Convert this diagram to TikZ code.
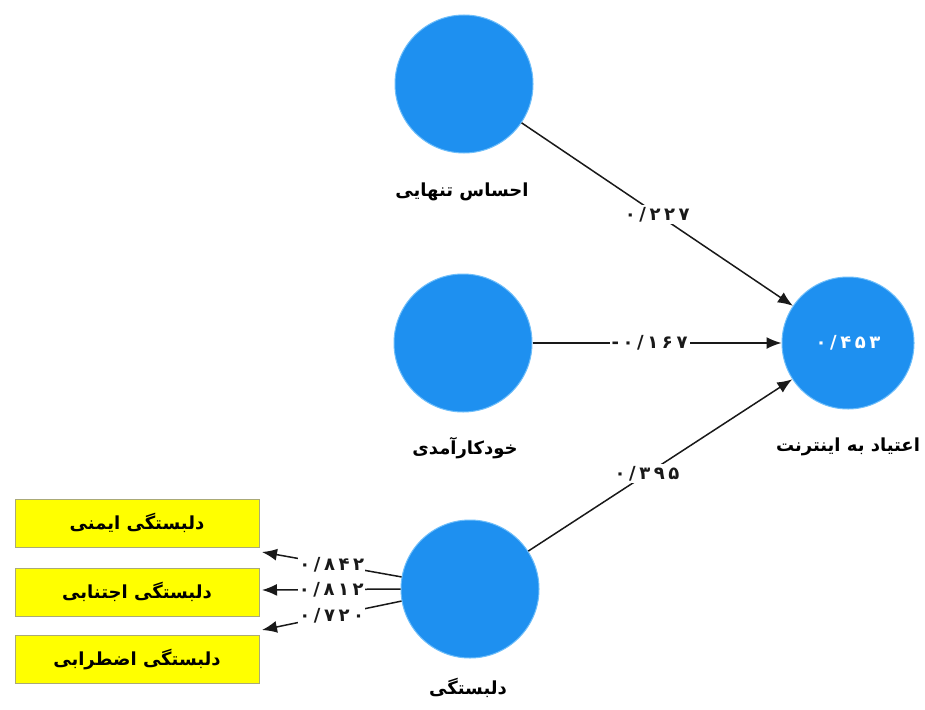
\documentclass[tikz,border=0pt]{standalone}
\usepackage{fontspec}
\usetikzlibrary{arrows.meta}
\TeXXeTstate=1
\newfontfamily\fa[Script=Arabic]{DejaVu Sans}
\newfontfamily\fanum[LetterSpace=20]{DejaVu Sans}
\definecolor{nodeblue}{RGB}{30,144,240}
\definecolor{nodeedge}{RGB}{110,190,250}
\definecolor{boxyellow}{RGB}{255,255,0}
\definecolor{boxedge}{RGB}{170,170,120}
\tikzset{
  lv/.style={circle, fill=nodeblue, draw=nodeedge, line width=1pt, minimum size=138pt, inner sep=0pt},
  ind/.style={rectangle, fill=boxyellow, draw=boxedge, line width=0.8pt, minimum width=244pt, minimum height=48pt, font=\fa\bfseries\fontsize{18}{21}\selectfont},
  vname/.style={font=\fa\bfseries\fontsize{18}{21}\selectfont, text=black},
  coef/.style={fill=white, inner sep=2pt, font=\fanum\bfseries\fontsize{18}{21}\selectfont, text=black!90},
  arr/.style={draw=black!90, line width=1.5pt, -{Latex[length=15pt,width=12pt]}},
}
\begin{document}
\begin{tikzpicture}[x=1pt,y=-1pt]
\path[use as bounding box, fill=white] (0,0) rectangle (925,709);
% latent variables
\node[lv] (c1) at (464,84) {};
\node[lv] (c2) at (463,343) {};
\node[lv] (c3) at (470,589) {};
\node[lv, minimum size=132pt] (c4) at (848,343) {};
\node[font=\fanum\bfseries\fontsize{18}{21}\selectfont, text=white] (r2) at (c4.center) {۰/۴۵۳};
% names
\node[vname] (n1) at (462,192) {\beginR احساس تنهایی\endR};
\node[vname] (n2) at (465,448) {\beginR خودکارآمدی\endR};
\node[vname] (n4) at (848,447) {\beginR اعتیاد به اینترنت\endR};
\node[vname] (n3) at (468,688) {\beginR دلبستگی\endR};
% indicators
\node[ind] (b1) at (137,523) {\beginR دلبستگی ایمنی\endR};
\node[ind] (b2) at (137,592) {\beginR دلبستگی اجتنابی\endR};
\node[ind] (b3) at (137,659.5) {\beginR دلبستگی اضطرابی\endR};
\coordinate (t1) at (262,552);
\coordinate (t2) at (262,590);
\coordinate (t3) at (262,630);
% structural paths
\draw[arr] (c1) -- node[coef, pos=0.5] {۰/۲۲۷} (c4);
\draw[arr] (c2) -- node[coef, pos=0.47] {-۰/۱۶۷} (c4);
\draw[arr] (c3) -- node[coef, pos=0.45] {۰/۳۹۵} (c4);
% measurement paths
\draw[arr] (c3.170) -- node[coef, pos=0.5, inner sep=1pt] {۰/۸۴۲} (t1);
\draw[arr] (c3.180) -- node[coef, pos=0.5, inner sep=1pt] {۰/۸۱۲} (t2);
\draw[arr] (c3.190) -- node[coef, pos=0.5, inner sep=1pt] {۰/۷۲۰} (t3);
\end{tikzpicture}
\end{document}
